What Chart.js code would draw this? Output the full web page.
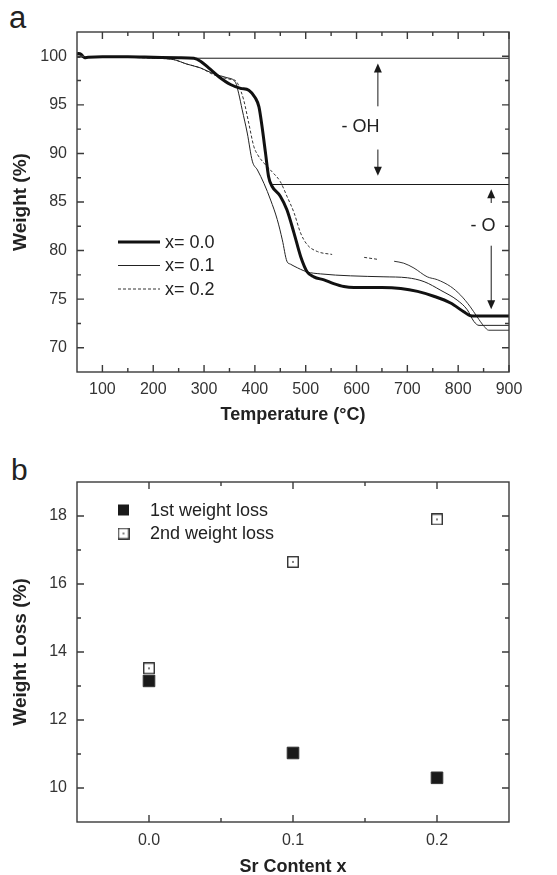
<!DOCTYPE html>
<html><head><meta charset="utf-8">
<script src="https://cdn.jsdelivr.net/npm/chart.js@4.4.0/dist/chart.umd.min.js"></script>
<style>
html,body{margin:0;padding:0;background:#fff;}
#wrap{position:relative;width:557px;height:875px;overflow:hidden;font-family:"Liberation Sans",Arial,sans-serif;}
.pl{position:absolute;font-size:30px;line-height:30px;color:#222;}
</style></head>
<body><div id="wrap">
<div class="pl" style="left:9px;top:3px;font-size:31px">a</div>
<div class="pl" style="left:11px;top:455px">b</div>
<canvas id="ca" width="557" height="440" style="position:absolute;left:0;top:0"></canvas>
<canvas id="cb" width="557" height="435" style="position:absolute;left:0;top:440px"></canvas>
</div>
<script>
// ---------- Panel a data (TGA curves) ----------
const tempX00 = [50, 58, 65, 72, 100, 150, 200, 250, 280, 293, 309, 329, 352, 372, 388, 401, 408, 414, 421, 427, 434, 450, 463, 477, 490, 503, 516, 536, 555, 575, 595, 650, 687, 720, 752, 785, 811, 824, 835, 900];
const weightX00 = [100.3, 100.2, 99.85, 99.9, 99.95, 99.95, 99.9, 99.85, 99.8, 99.5, 98.8, 97.9, 97.1, 96.7, 96.5, 95.7, 94.8, 92.8, 90.0, 87.6, 86.6, 85.6, 84.2, 81.8, 79.4, 77.8, 77.3, 76.98, 76.6, 76.3, 76.2, 76.2, 76.1, 75.8, 75.3, 74.6, 73.7, 73.3, 73.27, 73.27];

const tempX01 = [50, 100, 150, 200, 240, 266, 293, 319, 345, 362, 368, 375, 385, 395, 405, 418, 431, 444, 454, 463, 470, 477, 503, 529, 588, 654, 700, 733, 766, 798, 818, 831, 841, 900];
const weightX01 = [99.9, 99.95, 99.9, 99.8, 99.66, 99.2, 98.8, 98.2, 97.8, 97.3, 96.2, 94.5, 92.1, 89.2, 88.3, 86.9, 85.2, 83.2, 81.1, 78.9, 78.6, 78.4, 77.8, 77.6, 77.4, 77.3, 77.2, 76.8, 75.9, 74.9, 73.9, 72.7, 72.3, 72.3];

const tempX02 = [50, 100, 150, 200, 240, 266, 293, 319, 345, 355, 362, 368, 378, 388, 398, 405, 418, 434, 450, 463, 477, 490, 503, 523, 552, 580, 615, 641, 660, 674, 693, 713, 739, 759, 785, 805, 824, 837, 851, 860, 900];
const weightX02 = [99.9, 99.95, 99.9, 99.8, 99.66, 99.2, 98.8, 98.1, 97.7, 97.6, 97.5, 97.0, 95.5, 93.1, 90.7, 89.9, 89.0, 88.1, 87.1, 85.6, 83.9, 81.8, 80.6, 79.9, 79.6, null, 79.3, 79.1, null, 78.9, 78.7, 78.2, 77.3, 77.0, 76.3, 75.4, 74.2, 73.2, 72.2, 71.8, 71.8];

const seriesLabelsA = ['x= 0.0', 'x= 0.1', 'x= 0.2'];
const xTicksA = [100, 200, 300, 400, 500, 600, 700, 800, 900];
const xMinorA = [150, 250, 350, 450, 550, 650, 750, 850];
const yTicksA = [70, 75, 80, 85, 90, 95, 100];
const yMinorA = [72.5, 77.5, 82.5, 87.5, 92.5, 97.5];

// reference levels and annotation values (data units)
const refLevels = [99.8, 86.8];
const refStartTemps = [283, 434];
const annotLabels = ['- OH', '- O'];
const arrowTemps = [642, 865];
const arrowUpTip = [99.25, 86.3];
const arrowUpEnd = [94.85, 84.9];
const arrowDownStart = [90.4, 80.5];
const arrowDownTip = [87.7, 73.95];
const labelTemps = [608, 849];
const labelWeights = [92.7, 82.5];

// ---------- Panel b data ----------
const srContent = [0.0, 0.1, 0.2];
const loss1 = [13.15, 11.03, 10.3];
const loss2 = [13.52, 16.65, 17.9];
const seriesLabelsB = ['1st weight loss', '2nd weight loss'];
const xTicksB = [0.0, 0.1, 0.2];
const xMinorB = [0.05, 0.15];
const yTicksB = [10, 12, 14, 16, 18];
const yMinorB = [11, 13, 15, 17];

const FONT = '"Liberation Sans", Arial, sans-serif';
const INK = '#1a1a1a';

function toXY(xs, ys) { return xs.map((x, i) => ({ x: x, y: ys[i] })); }

function framePlugin(xMaj, xMin, yMaj, yMin) {
  return {
    id: 'frame',
    afterDraw(chart) {
      const { ctx, chartArea: a, scales: { x, y } } = chart;
      ctx.save();
      ctx.strokeStyle = '#3a3a3a';
      ctx.lineWidth = 1.4;
      ctx.strokeRect(a.left, a.top, a.right - a.left, a.bottom - a.top);
      const tick = (vals, len, horiz) => {
        vals.forEach(v => {
          if (horiz) {
            const px = x.getPixelForValue(v);
            ctx.beginPath();
            ctx.moveTo(px, a.bottom); ctx.lineTo(px, a.bottom - len);
            ctx.moveTo(px, a.top); ctx.lineTo(px, a.top + len);
            ctx.stroke();
          } else {
            const py = y.getPixelForValue(v);
            ctx.beginPath();
            ctx.moveTo(a.left, py); ctx.lineTo(a.left + len, py);
            ctx.moveTo(a.right, py); ctx.lineTo(a.right - len, py);
            ctx.stroke();
          }
        });
      };
      tick(xMaj, 7, true); tick(xMin, 4, true);
      tick(yMaj, 7, false); tick(yMin, 4, false);
      ctx.restore();
    }
  };
}

const annotPlugin = {
  id: 'annot',
  afterDatasetsDraw(chart) {
    const { ctx, scales: { x, y } } = chart;
    ctx.save();
    ctx.strokeStyle = INK; ctx.fillStyle = INK; ctx.lineWidth = 1;
    refLevels.forEach((lv, i) => {
      const py = y.getPixelForValue(lv);
      ctx.beginPath();
      ctx.moveTo(x.getPixelForValue(refStartTemps[i]), py);
      ctx.lineTo(x.getPixelForValue(900), py);
      ctx.stroke();
    });
    const head = (px, tipY, dir) => {
      ctx.beginPath();
      ctx.moveTo(px, tipY);
      ctx.lineTo(px - 4, tipY + dir * 9);
      ctx.lineTo(px + 4, tipY + dir * 9);
      ctx.closePath(); ctx.fill();
    };
    arrowTemps.forEach((t, i) => {
      const px = x.getPixelForValue(t);
      const upTip = y.getPixelForValue(arrowUpTip[i]);
      const upEnd = y.getPixelForValue(arrowUpEnd[i]);
      const dnStart = y.getPixelForValue(arrowDownStart[i]);
      const dnTip = y.getPixelForValue(arrowDownTip[i]);
      ctx.beginPath(); ctx.moveTo(px, upTip + 6); ctx.lineTo(px, upEnd); ctx.stroke();
      head(px, upTip, 1);
      ctx.beginPath(); ctx.moveTo(px, dnStart); ctx.lineTo(px, dnTip - 6); ctx.stroke();
      head(px, dnTip, -1);
      ctx.font = '18px ' + FONT;
      ctx.textAlign = 'center'; ctx.textBaseline = 'middle';
      ctx.fillStyle = '#222';
      ctx.fillText(annotLabels[i], x.getPixelForValue(labelTemps[i]), y.getPixelForValue(labelWeights[i]));
      ctx.fillStyle = INK;
    });
    ctx.restore();
  }
};

const legendAPlugin = {
  id: 'legA',
  afterDraw(chart) {
    const { ctx } = chart;
    ctx.save();
    chart.data.datasets.forEach((ds, i) => {
      const yy = 242 + i * 23.5;
      ctx.strokeStyle = ds.borderColor;
      ctx.lineWidth = ds.borderWidth;
      ctx.setLineDash(ds.legendDash || []);
      ctx.beginPath(); ctx.moveTo(118, yy); ctx.lineTo(160, yy); ctx.stroke();
      ctx.setLineDash([]);
      ctx.fillStyle = '#222';
      ctx.font = '18px ' + FONT;
      ctx.textAlign = 'left'; ctx.textBaseline = 'middle';
      ctx.fillText(ds.label, 165, yy + 1);
    });
    ctx.restore();
  }
};

new Chart(document.getElementById('ca'), {
  type: 'line',
  data: {
    datasets: [
      { label: seriesLabelsA[0], data: toXY(tempX00, weightX00), borderColor: '#111', borderWidth: 3, pointRadius: 0, cubicInterpolationMode: 'monotone', spanGaps: false },
      { label: seriesLabelsA[1], data: toXY(tempX01, weightX01), borderColor: '#222', borderWidth: 1, pointRadius: 0, cubicInterpolationMode: 'monotone', spanGaps: false },
      { label: seriesLabelsA[2], data: toXY(tempX02, weightX02), borderColor: '#333', borderWidth: 1, pointRadius: 0, cubicInterpolationMode: 'monotone', spanGaps: false,
        legendDash: [3, 2],
        segment: { borderDash: c => (c.p0.parsed.x >= 670 ? [] : [3, 2]) } }
    ]
  },
  options: {
    responsive: false, animation: false, events: [],
    layout: { padding: { left: 0, top: 32, right: 48, bottom: 0 } },
    plugins: { legend: { display: false }, tooltip: { enabled: false } },
    scales: {
      x: {
        type: 'linear', min: 50, max: 900,
        afterFit: s => { s.height = 68; },
        afterBuildTicks: s => { s.ticks = xTicksA.map(v => ({ value: v })); },
        grid: { display: false, drawTicks: false }, border: { display: false },
        ticks: { padding: 8, color: '#333', font: { family: FONT, size: 16 }, maxRotation: 0, autoSkip: false },
        title: { display: true, text: 'Temperature (°C)', color: '#222', font: { family: FONT, size: 18, weight: 'bold', lineHeight: 1.2 }, padding: { top: 0, bottom: 14 } }
      },
      y: {
        type: 'linear', min: 67.5, max: 102.5,
        afterFit: s => { s.width = 77; },
        afterBuildTicks: s => { s.ticks = yTicksA.map(v => ({ value: v })); },
        grid: { display: false, drawTicks: false }, border: { display: false },
        ticks: { padding: 10, color: '#333', font: { family: FONT, size: 16 }, autoSkip: false },
        title: { display: true, text: 'Weight (%)', color: '#222', font: { family: FONT, size: 19, weight: 'bold', lineHeight: 1.2 }, padding: { top: 9, bottom: 0 } }
      }
    }
  },
  plugins: [framePlugin(xTicksA, xMinorA, yTicksA, yMinorA), annotPlugin, legendAPlugin]
});

// open square with center dot as a point style
function openSquare(side) {
  const c = document.createElement('canvas');
  c.width = side; c.height = side;
  const g = c.getContext('2d');
  g.fillStyle = '#fff'; g.fillRect(0, 0, side, side);
  g.strokeStyle = '#222'; g.lineWidth = 1.3;
  g.strokeRect(0.75, 0.75, side - 1.5, side - 1.5);
  g.fillStyle = '#222';
  g.fillRect(side / 2 - 0.75, side / 2 - 0.75, 1.5, 1.5);
  return c;
}
const openSq = openSquare(12);

const legendBPlugin = {
  id: 'legB',
  afterDraw(chart) {
    const { ctx } = chart;
    ctx.save();
    const ys = [70, 93.5];
    chart.data.datasets.forEach((ds, i) => {
      const yy = ys[i];
      if (i === 0) {
        ctx.fillStyle = '#1a1a1a';
        ctx.fillRect(118, yy - 5.5, 11, 11);
      } else {
        ctx.drawImage(openSq, 117.5, yy - 6);
      }
      ctx.fillStyle = '#222';
      ctx.font = '18px ' + FONT;
      ctx.textAlign = 'left'; ctx.textBaseline = 'middle';
      ctx.fillText(ds.label, 150, yy + 1);
    });
    ctx.restore();
  }
};

new Chart(document.getElementById('cb'), {
  type: 'scatter',
  data: {
    datasets: [
      { label: seriesLabelsB[0], data: toXY(srContent, loss1), pointStyle: 'rect', pointRadius: 8.2, backgroundColor: '#1a1a1a', borderColor: '#333', borderWidth: 1 },
      { label: seriesLabelsB[1], data: toXY(srContent, loss2), pointStyle: openSq, pointRadius: 6 }
    ]
  },
  options: {
    responsive: false, animation: false, events: [],
    layout: { padding: { left: 0, top: 42, right: 48, bottom: 0 } },
    plugins: { legend: { display: false }, tooltip: { enabled: false } },
    scales: {
      x: {
        type: 'linear', min: -0.05, max: 0.25,
        afterFit: s => { s.height = 53; },
        afterBuildTicks: s => { s.ticks = xTicksB.map(v => ({ value: v })); },
        grid: { display: false, drawTicks: false }, border: { display: false },
        ticks: { padding: 9, color: '#333', font: { family: FONT, size: 16 }, callback: v => v.toFixed(1), maxRotation: 0, autoSkip: false },
        title: { display: true, text: 'Sr Content x', color: '#222', font: { family: FONT, size: 18, weight: 'bold', lineHeight: 1.2 }, padding: { top: 0, bottom: -3 } }
      },
      y: {
        type: 'linear', min: 9, max: 19,
        afterFit: s => { s.width = 77; },
        afterBuildTicks: s => { s.ticks = yTicksB.map(v => ({ value: v })); },
        grid: { display: false, drawTicks: false }, border: { display: false },
        ticks: { padding: 10, color: '#333', font: { family: FONT, size: 16 }, autoSkip: false },
        title: { display: true, text: 'Weight Loss (%)', color: '#222', font: { family: FONT, size: 19, weight: 'bold', lineHeight: 1.2 }, padding: { top: 9, bottom: 0 } }
      }
    }
  },
  plugins: [framePlugin(xTicksB, xMinorB, yTicksB, yMinorB), legendBPlugin]
});
</script>
</body></html>
